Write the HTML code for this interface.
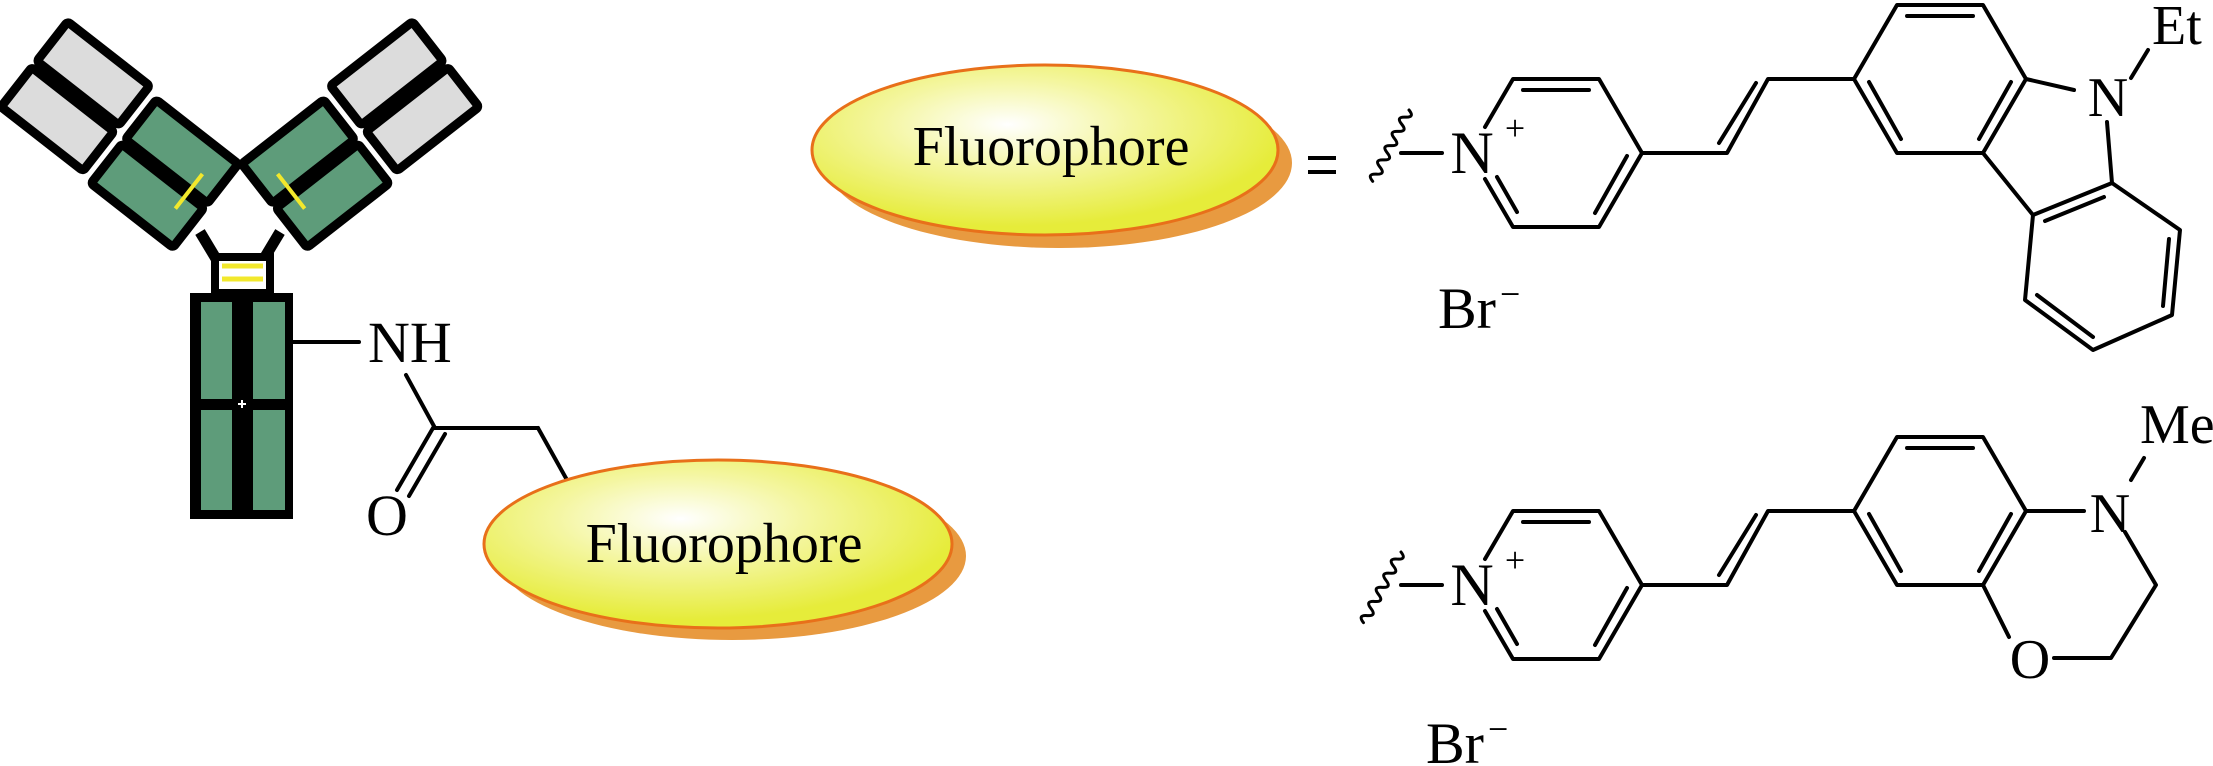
<!DOCTYPE html>
<html><head><meta charset="utf-8"><style>
html,body{margin:0;padding:0;background:#fff;}
svg{display:block;}
text{font-family:"Liberation Serif",serif;fill:#000;}
</style></head><body>
<svg width="2213" height="766" viewBox="0 0 2213 766" xmlns="http://www.w3.org/2000/svg">
<defs>
<radialGradient id="g" cx="0.42" cy="0.35" r="0.6">
<stop offset="0" stop-color="#ffffff"/>
<stop offset="0.45" stop-color="#f4f6a0"/>
<stop offset="1" stop-color="#e6ec3a"/>
</radialGradient>
<g id="arm">
<rect x="-112" y="-55" width="104" height="50" fill="#dcdcdc" stroke="#000" stroke-width="9" rx="3"/>
<rect x="-112" y="3" width="104" height="50" fill="#dcdcdc" stroke="#000" stroke-width="9" rx="3"/>
<rect x="6" y="-48" width="104" height="50" fill="#5e9c7a" stroke="#000" stroke-width="9" rx="3"/>
<rect x="6" y="8" width="104" height="50" fill="#5e9c7a" stroke="#000" stroke-width="9" rx="3"/>
<line x1="88" y1="-18" x2="88" y2="26" stroke="#f2e82c" stroke-width="4"/>
</g>
</defs>

<!-- antibody -->
<line x1="200" y1="232" x2="218" y2="262" stroke="#000" stroke-width="11"/>
<line x1="280" y1="232" x2="262" y2="262" stroke="#000" stroke-width="11"/>
<g transform="translate(122,134) rotate(38)"><use href="#arm"/></g>
<g transform="translate(480,0) scale(-1,1) translate(122,134) rotate(38)"><use href="#arm"/></g>
<rect x="215" y="257" width="55" height="36" fill="#fff" stroke="#000" stroke-width="8"/>
<line x1="222" y1="266" x2="263" y2="266" stroke="#f2e82c" stroke-width="5"/>
<line x1="222" y1="279" x2="263" y2="279" stroke="#f2e82c" stroke-width="5"/>
<rect x="190" y="293" width="103" height="226" fill="#000"/>
<rect x="201" y="302" width="31" height="97" fill="#5e9c7a"/>
<rect x="201" y="410" width="31" height="100" fill="#5e9c7a"/>
<rect x="253" y="302" width="32" height="97" fill="#5e9c7a"/>
<rect x="253" y="410" width="32" height="100" fill="#5e9c7a"/>
<line x1="238" y1="404" x2="246" y2="404" stroke="#fff" stroke-width="2"/>
<line x1="242" y1="400" x2="242" y2="408" stroke="#fff" stroke-width="2"/>

<!-- linker -->
<g stroke="#000" stroke-width="4" fill="none" stroke-linecap="round">
<line x1="293" y1="342" x2="359" y2="342"/>
<line x1="406" y1="375" x2="435" y2="428"/>
<line x1="435" y1="428" x2="538" y2="428"/>
<line x1="538" y1="428" x2="567" y2="480"/>
<line x1="433" y1="428" x2="397" y2="490"/>
<line x1="445" y1="434" x2="409" y2="496"/>
</g>
<text x="368" y="362" font-size="58">NH</text>
<text x="387" y="535" font-size="58" text-anchor="middle">O</text>

<!-- bottom ellipse -->
<ellipse cx="732" cy="556" rx="234" ry="84" fill="#e89a40"/>
<ellipse cx="718" cy="544" rx="234" ry="84" fill="url(#g)" stroke="#e8701a" stroke-width="3"/>
<text x="724" y="562" font-size="56" text-anchor="middle">Fluorophore</text>

<!-- top ellipse -->
<ellipse cx="1059" cy="163" rx="233" ry="85" fill="#e89a40"/>
<ellipse cx="1045" cy="150" rx="233" ry="85" fill="url(#g)" stroke="#e8701a" stroke-width="3"/>
<text x="1051" y="165" font-size="56" text-anchor="middle">Fluorophore</text>
<g stroke="#000" stroke-width="4"><line x1="1308" y1="158" x2="1336" y2="158"/><line x1="1308" y1="172" x2="1336" y2="172"/></g>

<!-- top molecule -->
<g stroke="#000" stroke-width="4" fill="none" stroke-linecap="round" stroke-linejoin="round">
<path transform="translate(1409,110) rotate(117)" d="M0,0 q4,-9 8,0 t8,0 t8,0 t8,0 t8,0 t8,0 t8,0 t8,0 t8,0 t8,0" stroke-width="3"/>
<line x1="1401" y1="153" x2="1442" y2="153"/>
<polyline points="1485,127 1513,79 1599,79 1642,153 1599,227 1513,227 1485,179"/>
<line x1="1523" y1="90" x2="1589" y2="90"/>
<line x1="1497" y1="177" x2="1517" y2="212"/>
<line x1="1627" y1="156" x2="1595" y2="213"/>
<polyline points="1642,153 1727,153 1768,79 1854,79"/>
<line x1="1719" y1="143" x2="1756" y2="83"/>
<polygon points="2026,79 1983,5 1897,5 1854,79 1897,153 1983,153"/>
<line x1="1907" y1="16" x2="1973" y2="16"/>
<line x1="1869" y1="82" x2="1901" y2="139"/>
<line x1="2011" y1="82" x2="1979" y2="139"/>
<line x1="2026" y1="79" x2="2074" y2="90"/>
<line x1="2107" y1="122" x2="2112" y2="183"/>
<line x1="2131" y1="78" x2="2148" y2="50"/>
<line x1="1983" y1="153" x2="2033" y2="215"/>
<polygon points="2033,215 2112,183 2180,230 2172,315 2093,350 2025,300"/>
<line x1="2045" y1="221" x2="2104" y2="197"/>
<line x1="2169" y1="239" x2="2163" y2="306"/>
<line x1="2037" y1="295" x2="2093" y2="337"/>
</g>
<text x="1472" y="173" font-size="60" text-anchor="middle">N</text>
<text x="1515" y="140" font-size="36" text-anchor="middle">+</text>
<text x="2108" y="116" font-size="56" text-anchor="middle">N</text>
<text x="2152" y="44" font-size="56">Et</text>
<text x="1438" y="328" font-size="58">Br</text>
<text x="1500" y="306" font-size="36">−</text>

<!-- bottom molecule -->
<g stroke="#000" stroke-width="4" fill="none" stroke-linecap="round" stroke-linejoin="round">
<path transform="translate(1401,552) rotate(118)" d="M0,0 q4,-9 8,0 t8,0 t8,0 t8,0 t8,0 t8,0 t8,0 t8,0 t8,0 t8,0" stroke-width="3"/>
<line x1="1401" y1="585" x2="1442" y2="585"/>
<polyline points="1485,559 1513,511 1599,511 1642,585 1599,659 1513,659 1485,611"/>
<line x1="1523" y1="522" x2="1589" y2="522"/>
<line x1="1497" y1="609" x2="1517" y2="644"/>
<line x1="1627" y1="588" x2="1595" y2="645"/>
<polyline points="1642,585 1727,585 1768,511 1854,511"/>
<line x1="1719" y1="575" x2="1756" y2="515"/>
<polygon points="2026,511 1983,437 1897,437 1854,511 1897,585 1983,585"/>
<line x1="1907" y1="448" x2="1973" y2="448"/>
<line x1="1869" y1="514" x2="1901" y2="571"/>
<line x1="2011" y1="514" x2="1979" y2="571"/>
<line x1="2026" y1="511" x2="2084" y2="511"/>
<line x1="2131" y1="480" x2="2144" y2="458"/>
<polyline points="2125,532 2156,585 2111,658 2054,658"/>
<line x1="2009" y1="637" x2="1983" y2="585"/>
</g>
<text x="1472" y="605" font-size="60" text-anchor="middle">N</text>
<text x="1515" y="572" font-size="36" text-anchor="middle">+</text>
<text x="2110" y="532" font-size="56" text-anchor="middle">N</text>
<text x="2140" y="443" font-size="56">Me</text>
<text x="2030" y="678" font-size="56" text-anchor="middle">O</text>
<text x="1426" y="763" font-size="58">Br</text>
<text x="1488" y="741" font-size="36">−</text>
</svg>
</body></html>
